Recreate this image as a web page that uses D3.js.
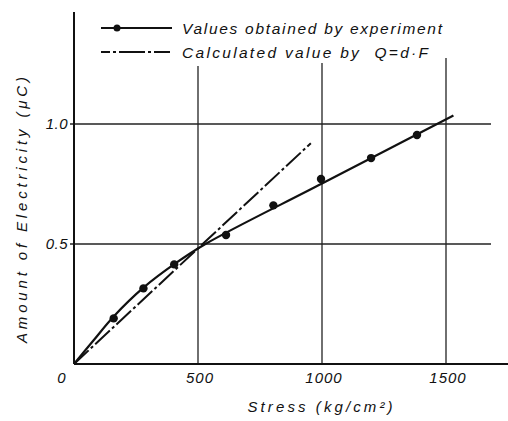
<!DOCTYPE html>
<html>
<head>
<meta charset="utf-8">
<script src="https://cdn.jsdelivr.net/npm/d3@7"></script>
<style>
  body { margin: 0; background: #fff; }
  text { font-family: "Liberation Sans", Arial, sans-serif; font-style: italic; fill: #111; }
</style>
</head>
<body>
<div id="chart"></div>
<script>
// measured points (stress kg/cm2, charge uC)
const expStress = [160, 280, 404, 613, 804, 996, 1198, 1383];
const expCharge = [0.19, 0.315, 0.415, 0.5375, 0.661, 0.771, 0.858, 0.954];

// smooth curve drawn through the experiment
const fitStress = [0, 80, 160, 280, 410, 530, 1000, 1530];
const fitCharge = [0, 0.1, 0.198, 0.318, 0.42, 0.5, 0.752, 1.035];

// Q = d*F
const calcStress = [0, 955];
const calcCharge = [0, 0.92];

const xTicks = [0, 500, 1000, 1500];
const yTicks = [0.5, 1.0];

const legendLabels = ["Values obtained by experiment", "Calculated value by  Q=d\u00b7F"];

const W = 508, H = 421;
const svg = d3.select("#chart").append("svg")
    .attr("width", W)
    .attr("height", H);

const x = d3.scaleLinear().domain([0, 500]).range([74, 198]);
const y = d3.scaleLinear().domain([0, 0.5]).range([364, 244]);

// grid lines
const gridTop = { 500: 66, 1000: 63, 1500: 58 };
svg.append("g").selectAll("line")
    .data(xTicks.filter(d => d > 0))
    .enter().append("line")
    .attr("x1", d => x(d)).attr("x2", d => x(d))
    .attr("y1", d => gridTop[d]).attr("y2", y(0))
    .attr("stroke", "#222").attr("stroke-width", 1.3);

svg.append("g").selectAll("line")
    .data(yTicks)
    .enter().append("line")
    .attr("x1", 70).attr("x2", 491)
    .attr("y1", d => y(d)).attr("y2", d => y(d))
    .attr("stroke", "#222").attr("stroke-width", 1.3);

// axes
svg.append("line")
    .attr("x1", x(0)).attr("x2", x(0))
    .attr("y1", 12).attr("y2", y(0))
    .attr("stroke", "#111").attr("stroke-width", 2);
svg.append("line")
    .attr("x1", x(0)).attr("x2", 508)
    .attr("y1", y(0)).attr("y2", y(0))
    .attr("stroke", "#111").attr("stroke-width", 2);

// tick labels
svg.append("g").selectAll("text")
    .data(xTicks)
    .enter().append("text")
    .attr("x", d => d === 0 ? 62 : x(d) + 2)
    .attr("y", 383)
    .attr("text-anchor", "middle")
    .attr("font-size", 15)
    .attr("letter-spacing", 1)
    .text(d => d);

svg.append("g").selectAll("text")
    .data(yTicks)
    .enter().append("text")
    .attr("x", 68)
    .attr("y", d => y(d) + 5)
    .attr("text-anchor", "end")
    .attr("font-size", 15)
    .attr("letter-spacing", 0.5)
    .text(d3.format(".1f"));

// axis titles
svg.append("text")
    .attr("x", 320)
    .attr("y", 412)
    .attr("text-anchor", "middle")
    .attr("font-size", 15)
    .attr("textLength", 145)
    .text("Stress (kg/cm\u00b2)");

svg.append("text")
    .attr("transform", "translate(27,210) rotate(-90)")
    .attr("text-anchor", "middle")
    .attr("font-size", 15)
    .attr("textLength", 266)
    .text("Amount of Electricity (\u03bcC)");

// lines
const fitData = fitStress.map((s, i) => [s, fitCharge[i]]);
const calcData = calcStress.map((s, i) => [s, calcCharge[i]]);
const expData = expStress.map((s, i) => [s, expCharge[i]]);

const line = d3.line()
    .x(d => x(d[0]))
    .y(d => y(d[1]))
    .curve(d3.curveCatmullRom.alpha(0.5));

svg.append("path")
    .datum(fitData)
    .attr("d", line)
    .attr("fill", "none")
    .attr("stroke", "#111")
    .attr("stroke-width", 2.2);

svg.append("path")
    .datum(calcData)
    .attr("d", line)
    .attr("fill", "none")
    .attr("stroke", "#111")
    .attr("stroke-width", 2)
    .attr("stroke-dasharray", "20,3,3,3");

svg.append("g").selectAll("circle")
    .data(expData)
    .enter().append("circle")
    .attr("cx", d => x(d[0]))
    .attr("cy", d => y(d[1]))
    .attr("r", 4.2)
    .attr("fill", "#111");

// legend
const legend = svg.append("g");
legend.append("line")
    .attr("x1", 101).attr("x2", 172)
    .attr("y1", 28).attr("y2", 28)
    .attr("stroke", "#111").attr("stroke-width", 2);
legend.append("circle")
    .attr("cx", 117).attr("cy", 28).attr("r", 3.5)
    .attr("fill", "#111");
legend.append("line")
    .attr("x1", 101).attr("x2", 172)
    .attr("y1", 52).attr("y2", 52)
    .attr("stroke", "#111").attr("stroke-width", 2)
    .attr("stroke-dasharray", "9,3,3,3,26,3,3,3,16");

legend.selectAll("text.lbl")
    .data(legendLabels)
    .enter().append("text")
    .attr("class", "lbl")
    .attr("x", 182)
    .attr("y", (d, i) => 34 + i * 24)
    .attr("font-size", 15.5)
    .attr("textLength", (d, i) => i === 0 ? 260 : 246)
    .attr("xml:space", "preserve")
    .text(d => d);
</script>
</body>
</html>
